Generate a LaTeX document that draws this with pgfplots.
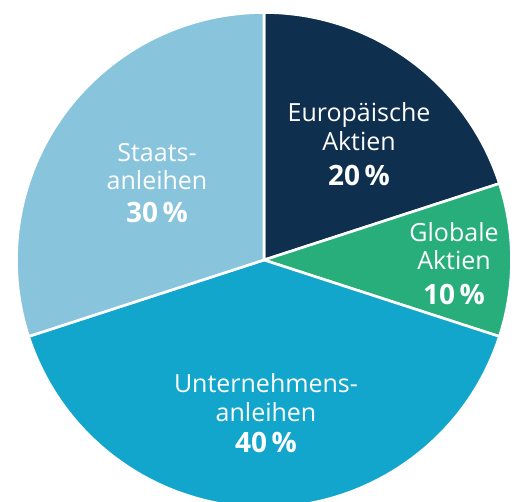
\documentclass[border=0pt]{standalone}
\usepackage{fontspec}
\setmainfont{Open Sans}
\usepackage{pgfplots}
\pgfplotsset{compat=1.18}
\usepackage{pgfplotstable}
\definecolor{cEU}{HTML}{0F2F4E}
\definecolor{cGL}{HTML}{27AE7B}
\definecolor{cCO}{HTML}{13A6CC}
\definecolor{cGO}{HTML}{89C4DD}
\newcommand\slicecolor[1]{\ifcase#1 cEU\or cGL\or cCO\or cGO\fi}
\pgfplotstableread{
label value
Europa 20
Global 10
Unternehmen 40
Staat 30
}\piedata
\begin{document}
\begin{tikzpicture}[x=1pt,y=1pt]
\clip (0,0) rectangle (515,502);
\begin{axis}[at={(264pt,242pt)}, anchor=center, width=495pt, height=495pt,
  scale only axis, hide axis, xmin=-1, xmax=1, ymin=-1, ymax=1, clip=false]
\xdef\angA{90}
\pgfplotstableforeachcolumnelement{value}\of\piedata\as\v{%
  \pgfmathsetmacro\angB{\angA-3.6*\v}%
  \edef\temp{\noexpand\fill[fill=\slicecolor{\pgfplotstablerow}, draw=white, line width=2.6pt, line join=round] (axis cs:0,0) -- ++(\angA:247.5pt) arc[start angle=\angA, end angle=\angB, radius=247.5pt] -- cycle;}%
  \temp
  \global\let\angA\angB
}
\end{axis}
\tikzset{lbl/.style={anchor=base, text=white, inner sep=0pt, font=\fontsize{25}{25}\selectfont},
         num/.style={lbl, font=\fontsize{28}{28}\selectfont\bfseries}}
\node[lbl] at (359,380) {Europäische};
\node[lbl] at (359,351) {Aktien};
\node[num] at (359,316) {20\,\%};
\node[lbl] at (454,260) {Globale};
\node[lbl] at (454,232) {Aktien};
\node[num] at (454,197) {10\,\%};
\node[lbl] at (157,340) {Staats-};
\node[lbl] at (157,312) {anleihen};
\node[num] at (157,279) {30\,\%};
\node[lbl] at (266,109) {Unternehmens-};
\node[lbl] at (266,80) {anleihen};
\node[num] at (266,49) {40\,\%};
\end{tikzpicture}
\end{document}
